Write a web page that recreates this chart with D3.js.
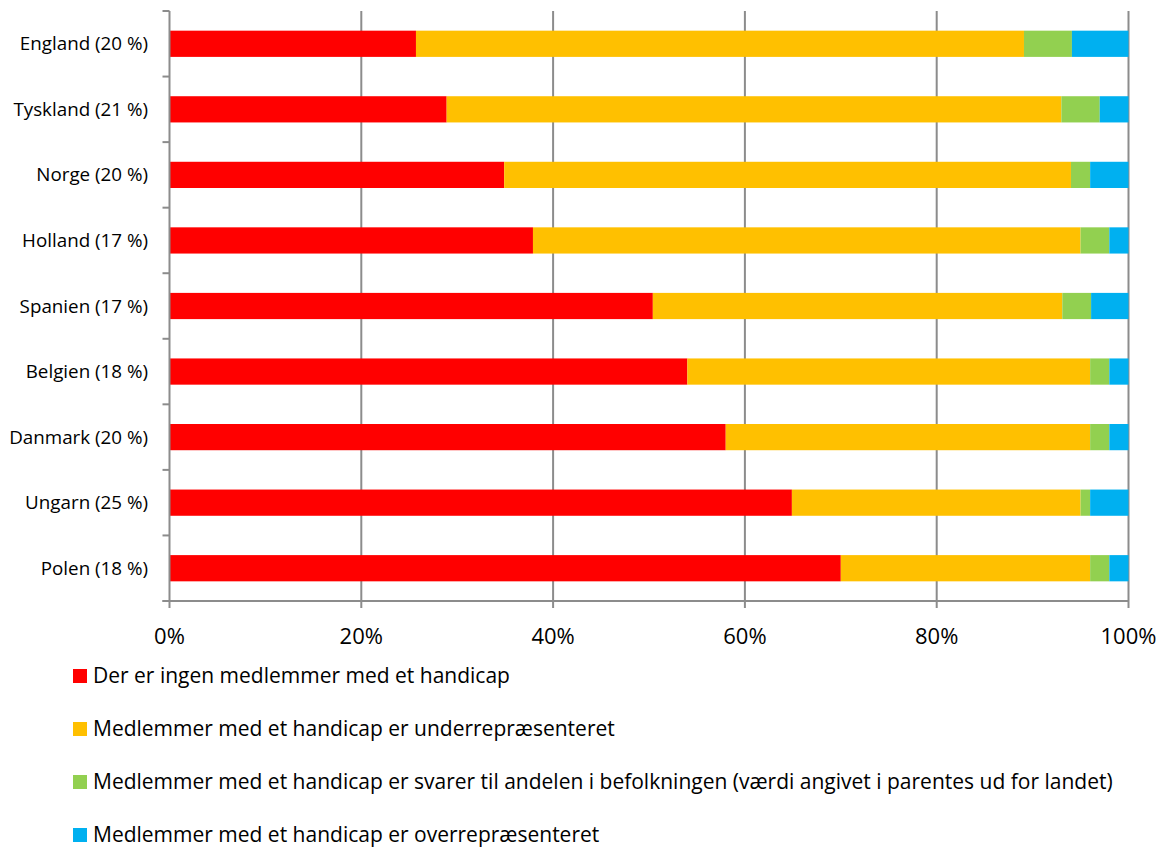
<!DOCTYPE html>
<html>
<head>
<meta charset="utf-8">
<script src="https://cdn.jsdelivr.net/npm/d3@7"></script>
<style>
  body { margin: 0; background: #fff; }
  svg text { font-family: "Open Sans", "Noto Sans", sans-serif; fill: #000; }
</style>
</head>
<body>
<div id="chart"></div>
<script>
// Lande (med andel i parentes), fra top til bund
const countries = ["England (20 %)", "Tyskland (21 %)", "Norge (20 %)", "Holland (17 %)",
  "Spanien (17 %)", "Belgien (18 %)", "Danmark (20 %)", "Ungarn (25 %)", "Polen (18 %)"];

// Andele i procent pr. serie
const ingen   = [25.7, 28.9, 34.9, 37.9, 50.4, 54.0, 58.0, 64.9, 70.0];
const under   = [63.4, 64.1, 59.1, 57.1, 42.7, 42.0, 38.0, 30.1, 26.0];
const svarer  = [5.0, 4.0, 2.0, 3.0, 3.0, 2.0, 2.0, 1.0, 2.0];
const over    = [5.9, 3.0, 4.0, 2.0, 3.9, 2.0, 2.0, 4.0, 2.0];

const seriesNames = [
  "Der er ingen medlemmer med et handicap",
  "Medlemmer med et handicap er underrepræsenteret",
  "Medlemmer med et handicap er svarer til andelen i befolkningen (værdi angivet i parentes ud for landet)",
  "Medlemmer med et handicap er overrepræsenteret"
];
const colors = ["#FF0000", "#FFC000", "#92D050", "#00B0F0"];
const xTicks = [0, 20, 40, 60, 80, 100];

const width = 1165, height = 849;
const margin = { top: 11, left: 169.5, right: 36.5, bottom: 248 };

const svg = d3.select("#chart").append("svg")
  .attr("width", width).attr("height", height);

const x = d3.scaleLinear().domain([0, 100]).range([margin.left, width - margin.right]);
const y = d3.scaleBand().domain(countries).range([margin.top, height - margin.bottom]).paddingInner(0.6).paddingOuter(0.3);

// Tabel til stack
const table = countries.map((c, i) => ({ country: c, s0: ingen[i], s1: under[i], s2: svarer[i], s3: over[i] }));
const stack = d3.stack().keys(["s0", "s1", "s2", "s3"])(table);

const axisColor = "#8c8c8c";
const bottomY = height - margin.bottom;

// Lodrette gitterlinjer
svg.append("g").selectAll("line").data(xTicks.slice(1)).enter().append("line")
  .attr("x1", d => x(d)).attr("x2", d => x(d))
  .attr("y1", margin.top).attr("y2", bottomY)
  .attr("stroke", axisColor).attr("stroke-width", 2);

// Søjler
svg.append("g").selectAll("g").data(stack).enter().append("g")
  .attr("fill", (d, i) => colors[i])
  .selectAll("rect").data(d => d).enter().append("rect")
  .attr("x", d => x(d[0]))
  .attr("width", d => x(d[1]) - x(d[0]))
  .attr("y", d => y(d.data.country))
  .attr("height", y.bandwidth());

// Y-akse med tick mellem kategorierne
const step = (bottomY - margin.top) / countries.length;
svg.append("line").attr("x1", x(0)).attr("x2", x(0)).attr("y1", margin.top).attr("y2", bottomY)
  .attr("stroke", axisColor).attr("stroke-width", 2);
svg.append("g").selectAll("line").data(d3.range(countries.length + 1)).enter().append("line")
  .attr("x1", x(0) - 7).attr("x2", x(0))
  .attr("y1", d => margin.top + d * step).attr("y2", d => margin.top + d * step)
  .attr("stroke", axisColor).attr("stroke-width", 2);

svg.append("g").selectAll("text").data(countries).enter().append("text")
  .attr("x", 148)
  .attr("y", d => y(d) + y.bandwidth() / 2)
  .attr("dy", "0.35em")
  .attr("text-anchor", "end")
  .attr("font-size", 18.8)
  .text(d => d);

// X-akse
svg.append("line").attr("x1", x(0) - 7).attr("x2", x(100)).attr("y1", bottomY).attr("y2", bottomY)
  .attr("stroke", axisColor).attr("stroke-width", 2);
svg.append("g").selectAll("line").data(xTicks).enter().append("line")
  .attr("x1", d => x(d)).attr("x2", d => x(d))
  .attr("y1", bottomY).attr("y2", bottomY + 7)
  .attr("stroke", axisColor).attr("stroke-width", 2);
svg.append("g").selectAll("text").data(xTicks).enter().append("text")
  .attr("x", d => x(d))
  .attr("y", bottomY + 43)
  .attr("text-anchor", "middle")
  .attr("font-size", 22)
  .text(d => d + "%");

// Forklaring
const legend = svg.append("g").selectAll("g").data(seriesNames).enter().append("g")
  .attr("transform", (d, i) => `translate(73, ${676 + i * 53})`);
legend.append("rect").attr("x", 0).attr("y", -7).attr("width", 14).attr("height", 14)
  .attr("fill", (d, i) => colors[i]);
legend.append("text").attr("x", 20).attr("y", 0).attr("dy", "0.35em")
  .attr("font-size", 21)
  .text(d => d);
</script>
</body>
</html>
